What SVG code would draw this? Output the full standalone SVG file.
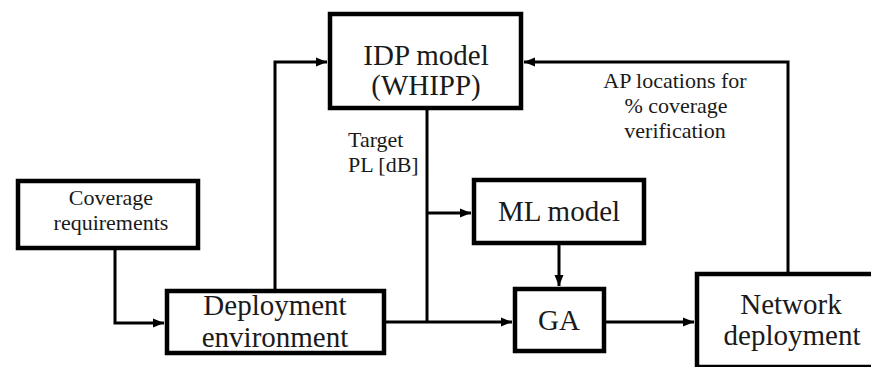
<svg xmlns="http://www.w3.org/2000/svg" width="871" height="367" viewBox="0 0 871 367">
  <style>
    .box { fill: #ffffff; stroke: #000000; stroke-width: 4.5; }
    .wire { fill: none; stroke: #000000; stroke-width: 3; }
    text { font-family: "Liberation Serif", Tinos, "Times New Roman", "DejaVu Serif", serif; fill: #1a1a1a; text-anchor: middle; }
    .big { font-size: 29px; }
    .small { font-size: 22px; }
    .left { text-anchor: start; }
  </style>
  <defs>
    <marker id="arrow" markerUnits="userSpaceOnUse" markerWidth="12" markerHeight="10" refX="11" refY="5" orient="auto">
      <path d="M0,0.5 L11,5 L0,9.5 Z" fill="#000000"/>
    </marker>
  </defs>
  <rect width="871" height="367" fill="#ffffff"/>

  <!-- connectors and their labels -->
  <g id="connectors">
    <polyline class="wire" points="115,250 115,323 164,323" marker-end="url(#arrow)"/>
    <polyline class="wire" points="275,289 275,62 327,62" marker-end="url(#arrow)"/>
    <line class="wire" x1="427" y1="110" x2="427" y2="323"/>
    <line class="wire" x1="427" y1="213" x2="471" y2="213" marker-end="url(#arrow)"/>
    <line class="wire" x1="386" y1="322" x2="512" y2="322" marker-end="url(#arrow)"/>
    <line class="wire" x1="559" y1="245" x2="559" y2="286" marker-end="url(#arrow)"/>
    <line class="wire" x1="606" y1="322" x2="694" y2="322" marker-end="url(#arrow)"/>
    <polyline class="wire" points="788,273 788,62 524,62" marker-end="url(#arrow)"/>
    <text class="small left" x="348" y="147">Target</text>
    <text class="small left" x="348" y="172">PL [dB]</text>
    <text class="small" x="675" y="88">AP locations for</text>
    <text class="small" x="676" y="113">% coverage</text>
    <text class="small" x="675" y="138">verification</text>
  </g>

  <g id="idp-model">
    <rect class="box" x="330" y="14" width="191" height="94"/>
    <text class="big" x="426" y="65">IDP model</text>
    <text class="big" x="426" y="95">(WHIPP)</text>
  </g>

  <g id="coverage-requirements">
    <rect class="box" x="18" y="181" width="180" height="67"/>
    <text class="small" x="111" y="205">Coverage</text>
    <text class="small" x="111" y="230">requirements</text>
  </g>

  <g id="deployment-environment">
    <rect class="box" x="167" y="291" width="217" height="62"/>
    <text class="big" x="275" y="315">Deployment</text>
    <text class="big" x="275" y="347">environment</text>
  </g>

  <g id="ml-model">
    <rect class="box" x="474" y="180" width="170" height="63"/>
    <text class="big" x="559" y="221">ML model</text>
  </g>

  <g id="ga">
    <rect class="box" x="515" y="289" width="89" height="62"/>
    <text class="big" x="559" y="330">GA</text>
  </g>

  <g id="network-deployment">
    <rect class="box" x="697" y="274" width="200" height="93"/>
    <text class="big" x="791" y="314">Network</text>
    <text class="big" x="792" y="345">deployment</text>
  </g>
</svg>
